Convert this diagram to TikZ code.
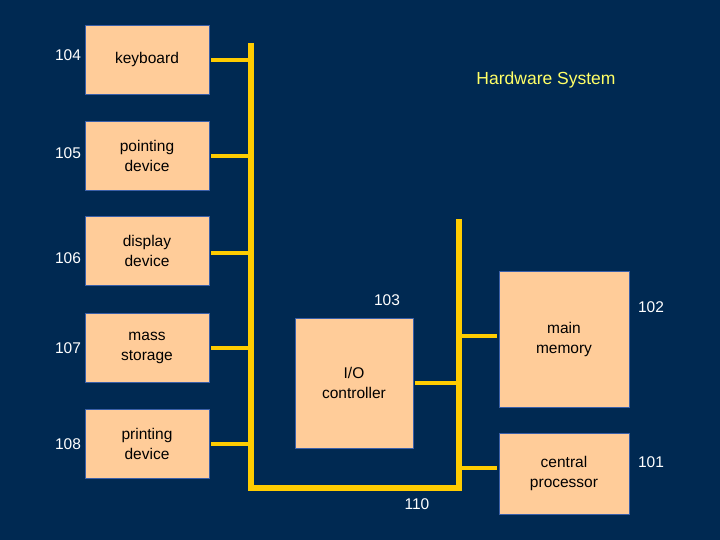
\documentclass[tikz,border=0pt]{standalone}
\usepackage{fontspec}
\setmainfont{Liberation Sans}
\definecolor{bg}{HTML}{002952}
\definecolor{peach}{HTML}{FFCC99}
\definecolor{edge}{HTML}{3A5FA8}
\definecolor{bus}{HTML}{FFCC00}
\definecolor{title}{HTML}{FFFF66}
\tikzset{
  box/.style={draw=edge, line width=0.8pt, fill=peach, inner sep=0pt, align=center,
    font=\fontsize{15.5}{20}\selectfont, text=black},
  num/.style={text=white, font=\fontsize{15.5}{19}\selectfont, inner sep=0pt},
  busline/.style={draw=bus, line width=6pt},
  stub/.style={draw=bus, line width=4pt}
}
\begin{document}
\begin{tikzpicture}[x=1pt,y=-1pt]
\fill[bg] (0,0) rectangle (720,540);
\useasboundingbox (0,0) rectangle (720,540);
% left boxes
\node[box, minimum width=124pt, minimum height=69pt] (kb) at (147,59.5) {keyboard};
\node[box, minimum width=124pt, minimum height=69pt] (pd) at (147,156) {pointing\\device};
\node[box, minimum width=124pt, minimum height=69pt] (dd) at (147,251) {display\\device};
\node[box, minimum width=124pt, minimum height=69pt] (ms) at (147,347.5) {mass\\storage};
\node[box, minimum width=124pt, minimum height=69pt] (pr) at (147,443.5) {printing\\device};
% center/right boxes
\node[box, minimum width=118pt, minimum height=130pt] (io) at (354,383) {I/O\\controller};
\node[box, minimum width=130pt, minimum height=136pt] (mm) at (564,339) {main\\memory};
\node[box, minimum width=130pt, minimum height=81pt] (cp) at (564,473.5) {central\\processor};
% labels
\node[num] at (68,55) {104};
\node[num] at (68,153) {105};
\node[num] at (68,258) {106};
\node[num] at (68,348) {107};
\node[num] at (68,444) {108};
\node[num] at (387,300) {103};
\node[num] at (651,307) {102};
\node[num] at (651,462) {101};
\node[num] at (417,504) {110};
\node[text=title, font=\fontsize{17.5}{21}\selectfont, inner sep=0pt] (hs) at (546,80) {Hardware System};
% bus
\coordinate (lt) at (251,46);
\coordinate (lb) at (251,488);
\coordinate (rb) at (459,488);
\coordinate (rt) at (459,222);
\draw[busline, line cap=rect] (lt) -- (lb) -- (rb) -- (rt);
% stubs
\draw[stub] (kb.east |- 0,60) ++(2,0) -- (lt |- 0,60);
\draw[stub] (pd.east) ++(2,0) -- (lt |- pd.east);
\draw[stub] (dd.east |- 0,253) ++(2,0) -- (lt |- 0,253);
\draw[stub] (ms.east) ++(2,0) -- (lt |- ms.east);
\draw[stub] (pr.east) ++(2,0) -- (lt |- pr.east);
\draw[stub] (io.east) ++(2,0) -- (rt |- io.east);
\draw[stub] (mm.west |- 0,336) ++(-2,0) -- (rt |- 0,336);
\draw[stub] (cp.west |- 0,468) ++(-2,0) -- (rt |- 0,468);
\end{tikzpicture}
\end{document}
